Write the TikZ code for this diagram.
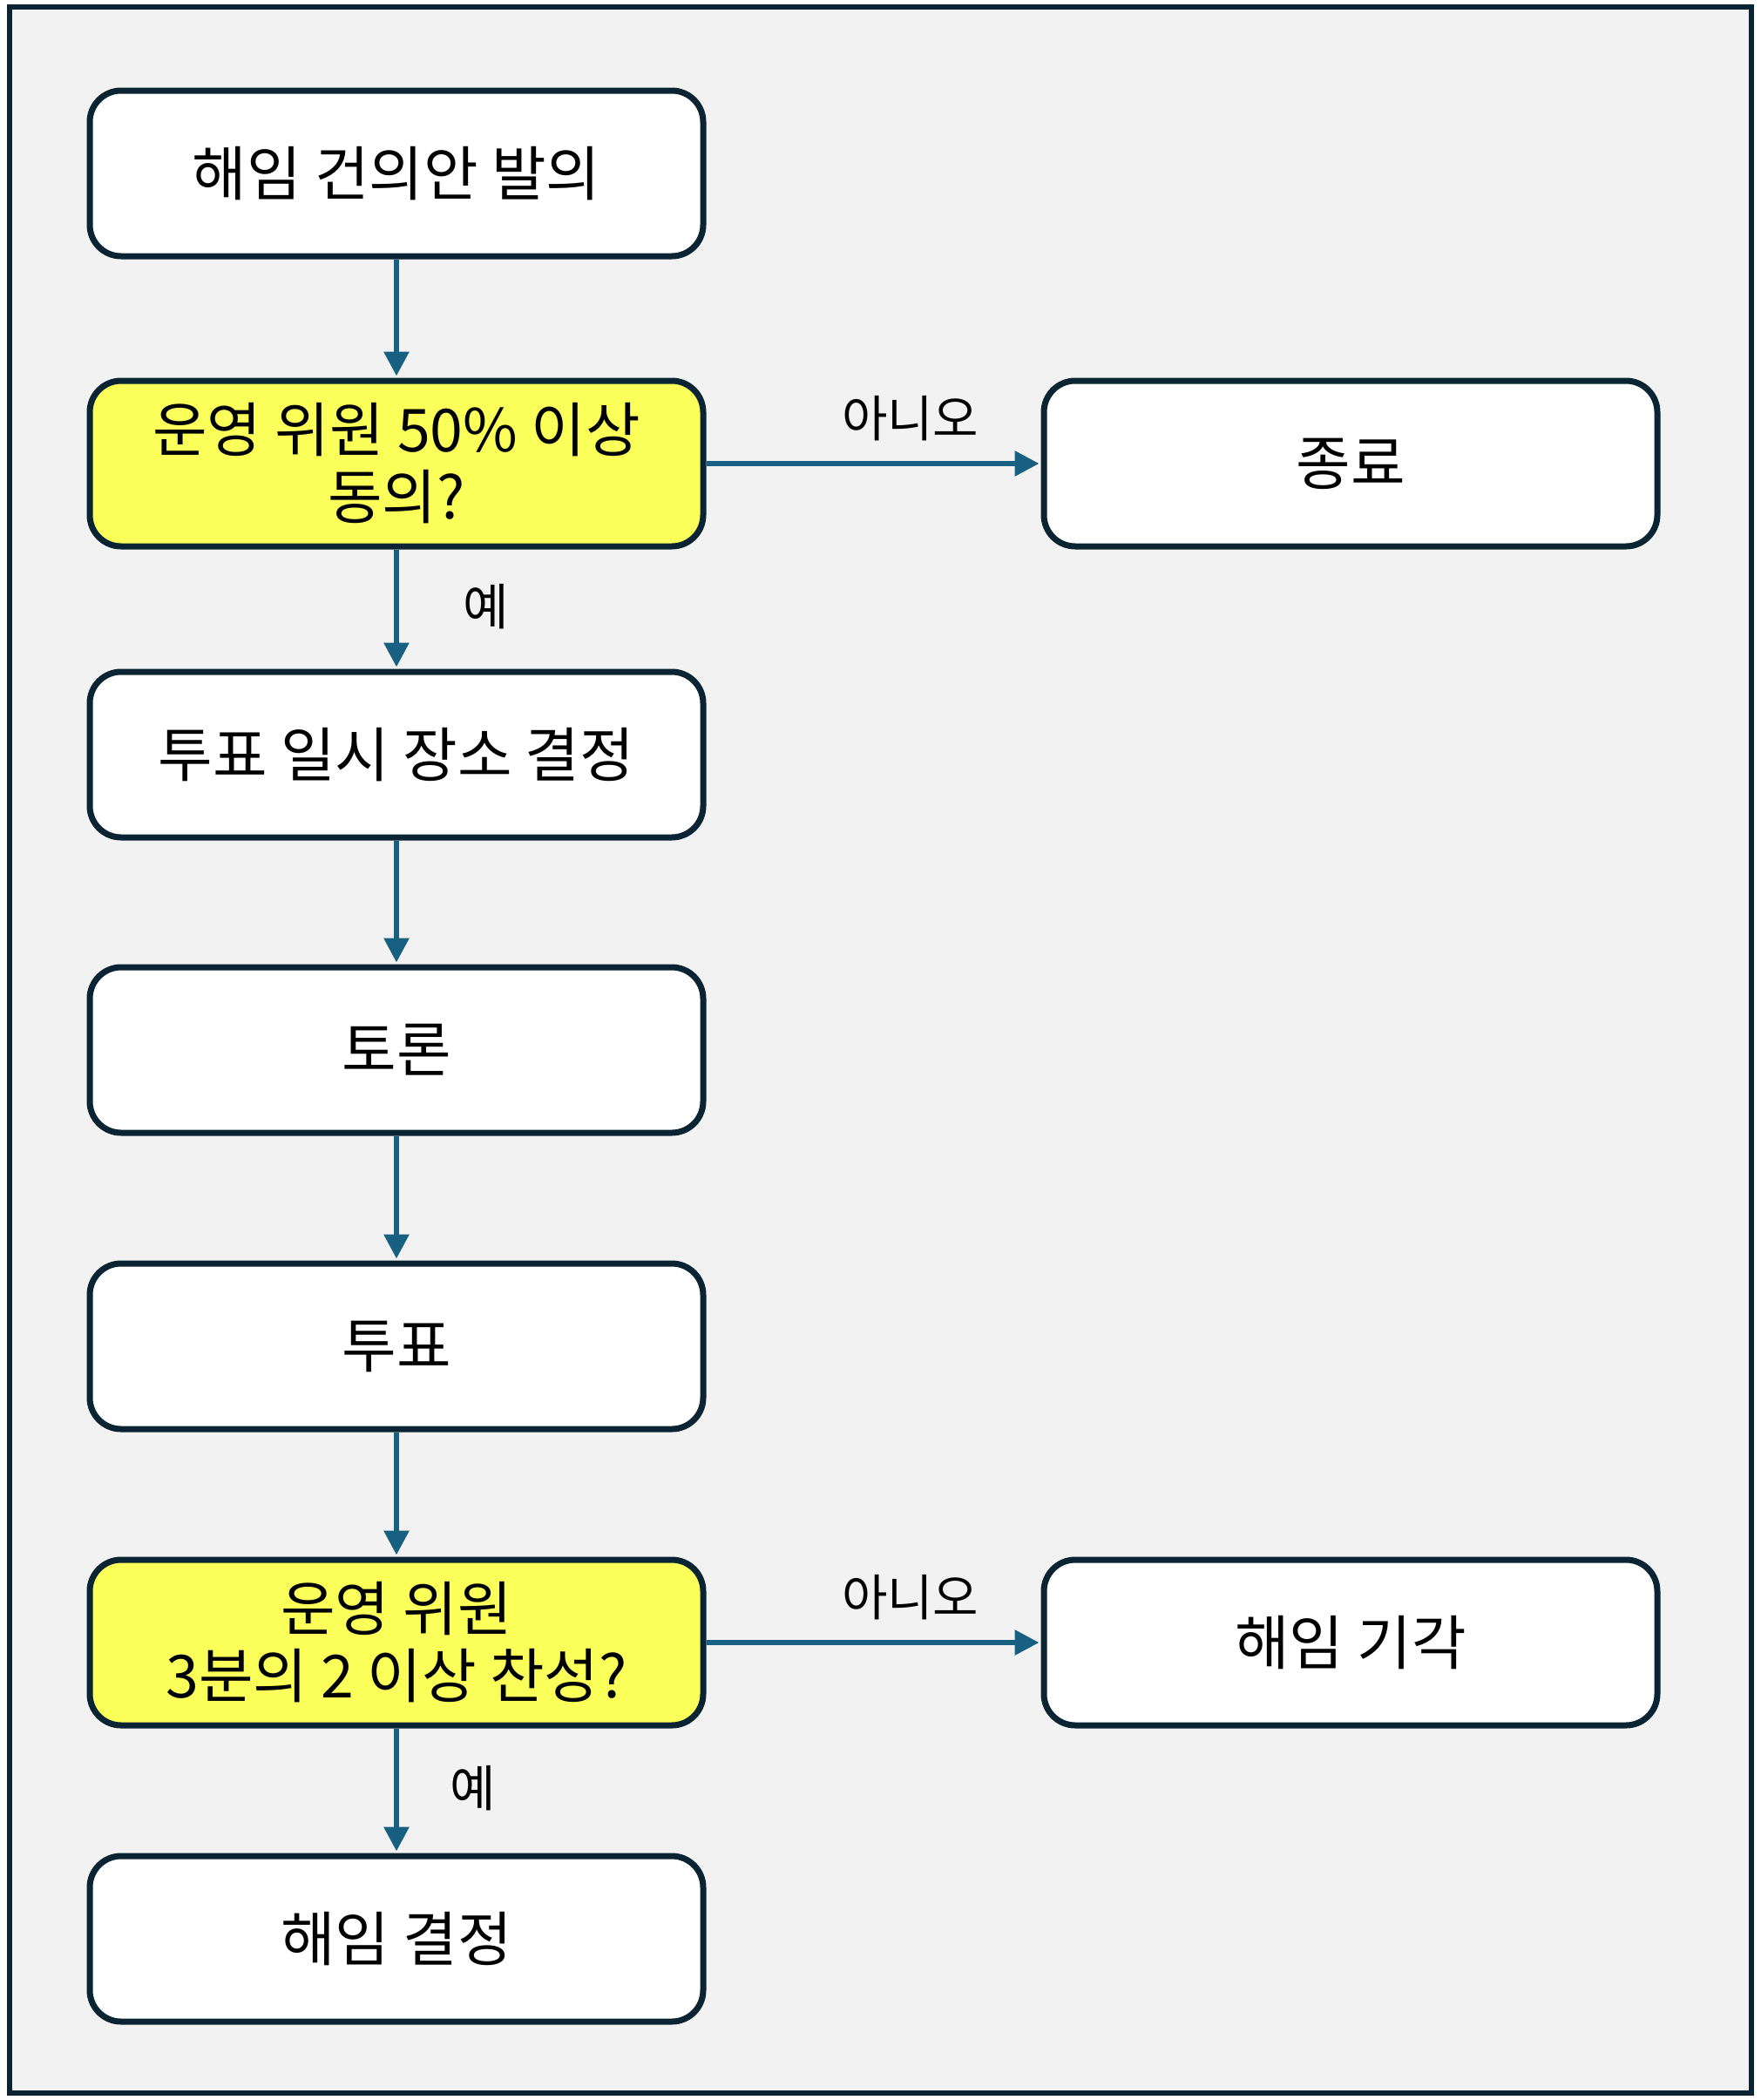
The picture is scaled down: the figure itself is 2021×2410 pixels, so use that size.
\documentclass[tikz,border=0pt]{standalone}
\usepackage{fontspec}
\setmainfont{Noto Sans CJK KR}
\usetikzlibrary{arrows.meta}
\definecolor{frameC}{RGB}{10,36,51}
\definecolor{bgC}{RGB}{242,242,242}
\definecolor{arrC}{RGB}{23,96,130}
\definecolor{yelC}{RGB}{250,255,90}
\begin{document}
\begin{tikzpicture}[x=1pt,y=-1pt,
 box/.style={draw=frameC, line width=7pt, rounded corners=36pt, fill=white,
   minimum width=704pt, minimum height=190pt, align=center, inner sep=0pt,
   font=\fontsize{68}{77}\selectfont},
 decision/.style={box, fill=yelC},
 flow/.style={draw=arrC, line width=6pt, -{Triangle[length=28pt,width=28pt]}, shorten >=2pt},
 lbl/.style={font=\fontsize{57}{62}\selectfont, text=black}]
\useasboundingbox (0,0) rectangle (2021,2410);
\draw[draw=frameC, line width=6pt, fill=bgC] (11,8) rectangle (2010,2402);
\node[box] (n1) at (455,199) {해임 건의안 발의};
\node[decision] (n2) at (455,532) {운영 위원 50\% 이상\\동의?};
\node[box] (n3) at (455,866) {투표 일시 장소 결정};
\node[box] (n4) at (455,1205) {토론};
\node[box] (n5) at (455,1545) {투표};
\node[decision] (n6) at (455,1885) {운영 위원\\3분의 2 이상 찬성?};
\node[box] (n7) at (455,2225) {해임 결정};
\node[box] (e1) at (1550,532) {종료};
\node[box] (e2) at (1550,1885) {해임 기각};
\draw[flow] (n1) -- (n2);
\draw[flow] (n2) -- node[lbl, pos=0.48, right=70pt] (y1) {예} (n3);
\draw[flow] (n3) -- (n4);
\draw[flow] (n4) -- (n5);
\draw[flow] (n5) -- (n6);
\draw[flow] (n6) -- node[lbl, pos=0.48, right=55pt] (y2) {예} (n7);
\draw[flow] (n2) -- node[lbl, pos=0.61, above=20pt] (no1) {아니오} (e1);
\draw[flow] (n6) -- node[lbl, pos=0.61, above=20pt] (no2) {아니오} (e2);
\end{tikzpicture}
\end{document}
